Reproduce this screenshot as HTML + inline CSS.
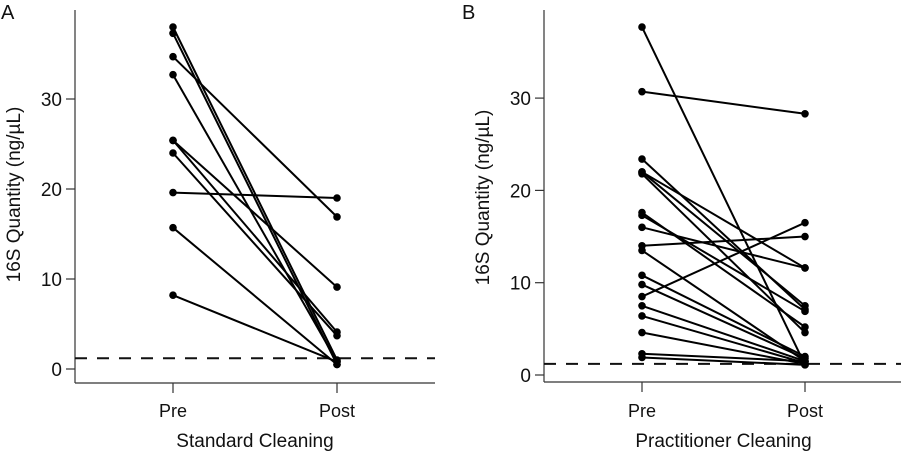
<!DOCTYPE html>
<html><head><meta charset="utf-8"><style>
body{margin:0;background:#fff}
svg{display:block;font-family:"Liberation Sans",Arial,sans-serif}
</style></head><body>
<svg id="chart" width="907" height="454" viewBox="0 0 907 454"></svg>
<script>
const ticks=[0,10,20,30];
const xLabels=["Pre","Post"];
const aPre=[38.0,37.3,34.7,32.7,25.4,25.4,24.0,19.6,15.7,8.2];
const aPost=[1.0,0.5,16.9,0.8,9.1,4.1,3.7,19.0,0.5,0.8];
const bPre=[37.7,30.7,23.4,22.0,22.0,21.8,17.6,17.3,16.0,14.0,13.5,10.8,9.8,8.5,7.5,6.4,4.6,2.3,1.9];
const bPost=[1.1,28.3,7.1,11.6,7.5,4.6,5.2,6.9,11.6,15.0,1.5,2.0,1.8,16.5,1.5,1.3,1.2,1.5,1.1];
const detectLimit=1.2;
const NS="http://www.w3.org/2000/svg";
const svg=document.getElementById('chart');
function mk(t,a,p){const e=document.createElementNS(NS,t);for(const k in a)e.setAttribute(k,a[k]);(p||svg).appendChild(e);return e;}
function panel(o){
  const g=mk('g',{});
  
  
  const y=v=>o.y0-v*o.k;
  const xs=[o.xPre,o.xPost];
  let e=mk('line',{x1:o.ax,y1:10,x2:o.ax,y2:o.by,stroke:'#333','stroke-width':1.2},g);
  
  e=mk('line',{x1:o.ax,y1:o.by,x2:o.axEnd,y2:o.by,stroke:'#333','stroke-width':1.2},g);
  
  ticks.forEach(t=>{
    mk('line',{x1:o.ax-9,y1:y(t),x2:o.ax,y2:y(t),stroke:'#333','stroke-width':1.2},g);
    const tx=mk('text',{x:o.ax-13,y:y(t)+7,'text-anchor':'end','font-size':19,fill:'#111'},g);
    tx.textContent=t;
    
  });
  xLabels.forEach((l,i)=>{
    mk('line',{x1:xs[i],y1:o.by,x2:xs[i],y2:o.by+10,stroke:'#333','stroke-width':1.2},g);
    const tx=mk('text',{x:xs[i],y:417,'text-anchor':'middle','font-size':18,fill:'#111'},g);
    tx.textContent=l;
    
  });
  e=mk('line',{x1:o.ax,y1:y(detectLimit),x2:o.axEnd,y2:y(detectLimit),stroke:'#111','stroke-width':2,'stroke-dasharray':'12,10'},g);
  
  o.pre.forEach((v,i)=>{
    const l=mk('line',{x1:o.xPre,y1:y(v),x2:o.xPost,y2:y(o.post[i]),stroke:'#000','stroke-width':2},g);
    
    const c1=mk('circle',{cx:o.xPre,cy:y(v),r:3.8,fill:'#000'},g);
    
    const c2=mk('circle',{cx:o.xPost,cy:y(o.post[i]),r:3.8,fill:'#000'},g);
    
  });
  let t=mk('text',{x:o.letterX,y:19,'font-size':20,fill:'#111'},g);t.textContent=o.id;
  
  t=mk('text',{x:0,y:0,'text-anchor':'middle','font-size':19,fill:'#111',transform:`translate(${o.ytX},${(o.y0+10)/2+5}) rotate(-90)`},g);
  t.textContent='16S Quantity (ng/µL)';
  
  t=mk('text',{x:(o.xPre+o.xPost)/2,y:447,'text-anchor':'middle','font-size':19,fill:'#111'},g);
  t.textContent=o.title;
  
}
panel({id:'A',ax:75,axEnd:435,by:383,y0:369,k:9,xPre:173,xPost:337,pre:aPre,post:aPost,letterX:1,ytX:20,title:'Standard Cleaning'});
panel({id:'B',ax:544,axEnd:901,by:382,y0:375,k:9.23,xPre:642,xPost:805,pre:bPre,post:bPost,letterX:462,ytX:489,title:'Practitioner Cleaning'});
</script>
</body></html>
